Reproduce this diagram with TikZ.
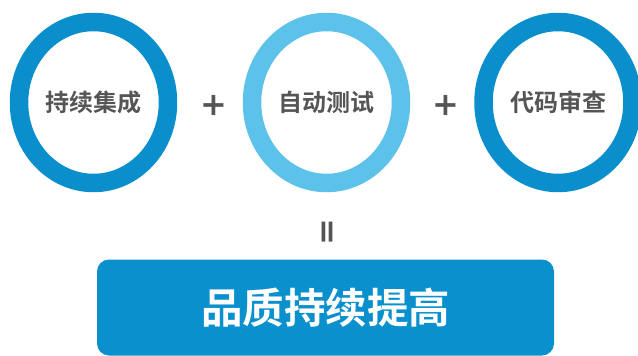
\documentclass[tikz,border=0pt]{standalone}
\usepackage{fontspec}
\usetikzlibrary{shapes.geometric}
\newfontfamily\cjk{Noto Sans CJK SC}[BoldFont={Noto Sans CJK SC Bold}]
\newfontfamily\symfont{DejaVu Sans}[BoldFont={DejaVu Sans Bold}]
\definecolor{ringdark}{HTML}{0A8FCC}
\definecolor{ringlight}{HTML}{5CC2EA}
\definecolor{boxblue}{HTML}{0A90CD}
\definecolor{labelgray}{HTML}{555555}
\tikzset{
  ring/.style={ellipse, draw=#1, line width=18.5pt, inner sep=0pt,
    minimum width=149pt, minimum height=161pt,
    font=\cjk\bfseries\fontsize{24}{24}\selectfont, text=labelgray},
  opsign/.style={inner sep=0pt, font=\symfont\bfseries\fontsize{32}{32}\selectfont, text=labelgray},
  resultbox/.style={fill=boxblue, rounded corners=12pt, inner sep=0pt,
    minimum width=457pt, minimum height=96pt,
    font=\cjk\bfseries\fontsize{41.5}{41.5}\selectfont, text=white}
}
\begin{document}
\begin{tikzpicture}[x=1pt,y=-1pt]
  \useasboundingbox (0,0) rectangle (638,356);
  \node[ring=ringdark]  (ci) at (93.5,102.5) {持续集成};
  \node[ring=ringlight] (at) at (326.5,102.5) {自动测试};
  \node[ring=ringdark]  (cr) at (558,102.5) {代码审查};
  \node[opsign] (p1) at (213.5,105) {+};
  \node[opsign] (p2) at (445.5,105) {+};
  \node[opsign, rotate=90] (eq) at (329.5,232) {=};
  \node[resultbox] (res) at (325.5,307.5) {品质持续提高};
\end{tikzpicture}
\end{document}
